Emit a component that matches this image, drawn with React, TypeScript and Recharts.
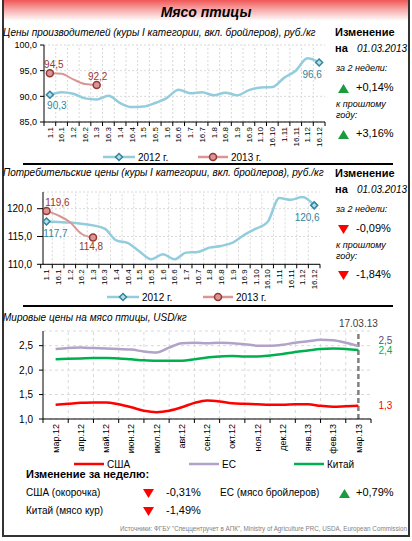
import React from 'react';
import { LineChart, Line, XAxis, YAxis, CartesianGrid, Legend, ReferenceLine } from 'recharts';

const FONT = '"Liberation Sans", Arial, Helvetica, sans-serif';

// Цены производителей / потребительские цены, руб./кг (по полумесяцам)
const periods = ['1.1', '16.1', '1.2', '16.2', '1.3', '16.3', '1.4', '16.4', '1.5', '16.5', '1.6', '16.6', '1.7', '16.7', '1.8', '16.8', '1.9', '16.9', '1.10', '16.10', '1.11', '16.11', '1.12', '16.12'];
const producer2012 = [90.3, 90.8, 90.5, 89.6, 89.4, 90.1, 88.7, 87.9, 88.0, 88.7, 89.7, 91.3, 90.6, 90.8, 90.2, 90.7, 90.2, 91.2, 91.7, 91.8, 93.6, 95.0, 97.4, 96.6];
const producer2013 = [94.5, 94.4, 93.3, 92.4, 92.2];
const consumer2012 = [117.7, 117.6, 117.5, 117.3, 117.0, 116.4, 114.3, 113.8, 112.3, 110.9, 111.8, 110.9, 112.1, 112.2, 113.0, 113.3, 113.9, 115.3, 116.4, 117.6, 121.9, 121.6, 122.1, 120.6];
const consumer2013 = [119.6, 118.8, 117.6, 115.5, 114.8];

// Мировые цены, USD/кг
const worldMonths = ['мар.12', 'апр.12', 'май.12', 'июн.12', 'июл.12', 'авг.12', 'сен.12', 'окт.12', 'ноя.12', 'дек.12', 'янв.13', 'фев.13', 'мар.13'];
const worldSteps = [0, 0.5, 1, 1.5, 2, 2.5, 3, 3.5, 4, 4.5, 5, 5.5, 6, 6.5, 7, 7.5, 8, 8.5, 9, 9.5, 10, 10.5, 11, 11.5, 12];
const usaPrices = [1.29, 1.31, 1.33, 1.34, 1.34, 1.30, 1.24, 1.17, 1.14, 1.17, 1.24, 1.33, 1.38, 1.36, 1.32, 1.31, 1.30, 1.29, 1.29, 1.30, 1.30, 1.27, 1.25, 1.26, 1.27];
const euPrices = [2.43, 2.45, 2.46, 2.45, 2.44, 2.43, 2.42, 2.38, 2.36, 2.46, 2.55, 2.56, 2.55, 2.56, 2.55, 2.53, 2.50, 2.50, 2.52, 2.56, 2.59, 2.62, 2.61, 2.56, 2.49];
const chinaPrices = [2.22, 2.23, 2.24, 2.25, 2.25, 2.24, 2.22, 2.20, 2.19, 2.19, 2.19, 2.22, 2.26, 2.28, 2.29, 2.28, 2.28, 2.30, 2.33, 2.37, 2.40, 2.43, 2.44, 2.43, 2.41];

const producerRows = periods.map((p, i) => ({ i, p, y2012: producer2012[i], y2013: producer2013[i] }));
const consumerRows = periods.map((p, i) => ({ i, p, y2012: consumer2012[i], y2013: consumer2013[i] }));
const worldRows = worldSteps.map((s, k) => ({ s, usa: usaPrices[k], eu: euPrices[k], china: chinaPrices[k] }));

const C12 = '#93cddd';
const C12_DARK = '#31859c';
const C13 = '#d99694';
const C13_DARK = '#953735';

const fmt = (v: number) => v.toFixed(1).replace('.', ',');

// ticks every half step: integers carry labels, halves carry tick marks
const halfTicks = (n: number) => Array.from({ length: 2 * n + 1 }, (_, k) => k / 2 - 0.5);
const inner = (n: number) => halfTicks(n).filter(v => !Number.isInteger(v) && v > 0 && v < n - 1);

function SplitTick({ x, y, payload, labels, fontSize }: any) {
  const v = payload.value;
  if (!Number.isInteger(v)) return <line x1={x} x2={x} y1={y - 4} y2={y} stroke="#000" />;
  return (
    <text x={x} y={y + 1} transform={`rotate(-90, ${x}, ${y + 1})`} textAnchor="end" dy="0.35em"
      fontSize={fontSize} fill="#000" fontFamily={FONT}>{labels[v]}</text>
  );
}

function Marker({ shape, cx, cy }: any) {
  if (shape === 'diamond') {
    return <path d={`M${cx},${cy - 3.5}L${cx + 3.5},${cy}L${cx},${cy + 3.5}L${cx - 3.5},${cy}Z`} fill="#b7dee8" stroke={C12_DARK} strokeWidth={1.5} />;
  }
  return <circle cx={cx} cy={cy} r={3.5} fill={C13} stroke={C13_DARK} strokeWidth={1.5} />;
}

const endDots = (shape: string, last: number) => (p: any) => {
  if ((p.index !== 0 && p.index !== last) || p.cy == null) return <g key={`d-${p.index}`} />;
  return <g key={`d-${p.index}`}><Marker shape={shape} cx={p.cx} cy={p.cy} /></g>;
};

const pointLabels = (spec: Record<number, { dx: number; dy: number }>, color: string, anchor = 'middle') => (p: any) => {
  const s = spec[p.index];
  if (!s || p.value == null) return null;
  const x = p.viewBox?.x ?? p.x;
  const y = p.viewBox?.y ?? p.y;
  return (
    <text x={x + s.dx} y={y + s.dy} textAnchor={anchor} dominantBaseline="central" fontSize={10} fill={color} fontFamily={FONT}>
      {fmt(p.value)}
    </text>
  );
};

function PlacedLegend({ payload, slots }: any) {
  return (
    <div style={{ position: 'relative', height: 14, fontFamily: FONT, fontSize: 10 }}>
      {(payload || []).map((entry: any) => {
        const s = slots[entry.value];
        if (!s) return null;
        return (
          <div key={entry.value} style={{ position: 'absolute', left: s.x, top: 0, height: 14, display: 'flex', alignItems: 'center' }}>
            <svg width={s.w} height={10} style={{ overflow: 'visible' }}>
              <line x1={0} x2={s.w} y1={5} y2={5} stroke={entry.color} strokeWidth={2.5} />
              {s.marker && <Marker shape={s.marker} cx={s.w / 2} cy={5} />}
            </svg>
            <span style={{ marginLeft: 3, color: '#000' }}>{entry.value}</span>
          </div>
        );
      })}
    </div>
  );
}

function PriceChart({ rows, top, height, yDomain, yTicks, xDomain, xHeight, right, yWidth, yTickSize, yTickMargin, yFont, legendTop, slots, labels12, labels13 }: any) {
  return (
    <div style={{ position: 'absolute', left: 0, top }}>
      <LineChart width={330} height={height} data={rows} margin={{ top: 6, right, bottom: 0, left: 0 }}>
        <CartesianGrid vertical={false} stroke="#d9d9d9" strokeDasharray="2 2" />
        {inner(24).map(v => <ReferenceLine key={v} x={v} stroke="#d9d9d9" strokeDasharray="2 2" />)}
        <XAxis dataKey="i" type="number" domain={xDomain} ticks={halfTicks(24)} interval={0} height={xHeight}
          tickSize={4} tickMargin={0} tickLine={false} axisLine={{ stroke: '#000' }}
          tick={<SplitTick labels={periods} fontSize={8} />} />
        <YAxis width={yWidth} domain={yDomain} ticks={yTicks} tickFormatter={fmt} interval={0}
          tick={{ fontSize: yFont, fill: '#000', fontFamily: FONT }} tickSize={yTickSize} tickMargin={yTickMargin}
          axisLine={{ stroke: '#000' }} tickLine={{ stroke: '#000' }} />
        <Legend verticalAlign="middle" align="center" wrapperStyle={{ top: legendTop, left: 0, width: 330 }}
          content={(props: any) => <PlacedLegend {...props} slots={slots} />} />
        <Line dataKey="y2012" name="2012 г." type="monotone" stroke={C12} strokeWidth={2.5}
          dot={endDots('diamond', 23)} activeDot={false} isAnimationActive={false}
          label={pointLabels(labels12, C12_DARK)} />
        <Line dataKey="y2013" name="2013 г." type="monotone" stroke={C13} strokeWidth={2}
          dot={endDots('circle', 4)} activeDot={false} isAnimationActive={false}
          label={pointLabels(labels13, C13_DARK)} />
      </LineChart>
    </div>
  );
}

function WorldChart() {
  const last = worldSteps.length - 1;
  return (
    <div style={{ position: 'absolute', left: 0, top: 310 }}>
      <LineChart width={412} height={166} data={worldRows} margin={{ top: 21, right: 41, bottom: 0, left: 0 }}>
        <CartesianGrid vertical={false} stroke="#d9d9d9" strokeDasharray="3 3" />
        {inner(13).map(v => <ReferenceLine key={v} x={v} stroke="#d9d9d9" strokeDasharray="3 3" />)}
        <ReferenceLine x={12} stroke="#808080" strokeWidth={2.5} strokeDasharray="5 3"
          label={{ value: '17.03.13', position: 'top', fill: '#404040', fontSize: 10, fontFamily: FONT, offset: 4 }} />
        <XAxis dataKey="s" type="number" domain={[-0.5, 12.5]} ticks={halfTicks(13)} interval={0} height={57}
          tickSize={4} tickMargin={0} tickLine={false} axisLine={{ stroke: '#000' }}
          tick={<SplitTick labels={worldMonths} fontSize={9} />} />
        <YAxis width={43} domain={[1, 2.8]} ticks={[1, 1.5, 2, 2.5]} tickFormatter={fmt} interval={0}
          tick={{ fontSize: 10, fill: '#000', fontFamily: FONT }} tickSize={4} tickMargin={6}
          axisLine={{ stroke: '#000' }} tickLine={{ stroke: '#000' }} />
        <Legend verticalAlign="middle" align="center" wrapperStyle={{ top: 147, left: 0, width: 412 }}
          content={(props: any) => <PlacedLegend {...props} slots={{ 'США': { x: 74, w: 30 }, 'ЕС': { x: 189, w: 30 }, 'Китай': { x: 294, w: 30 } }} />} />
        <Line dataKey="usa" name="США" type="monotone" stroke="#ff0000" strokeWidth={2.5} dot={false} activeDot={false}
          isAnimationActive={false} label={pointLabels({ [last]: { dx: 20, dy: 0 } }, '#ff0000', 'start')} />
        <Line dataKey="eu" name="ЕС" type="monotone" stroke="#b3a2c7" strokeWidth={2.5} dot={false} activeDot={false}
          isAnimationActive={false} label={pointLabels({ [last]: { dx: 20, dy: -6 } }, '#604a7b', 'start')} />
        <Line dataKey="china" name="Китай" type="monotone" stroke="#00b050" strokeWidth={2.5} dot={false} activeDot={false}
          isAnimationActive={false} label={pointLabels({ [last]: { dx: 20, dy: 0 } }, '#00b050', 'start')} />
      </LineChart>
    </div>
  );
}

function Txt({ x, y, size = 10, bold, italic, color = '#000', children, right }: any) {
  return (
    <div style={{
      position: 'absolute', left: right ? undefined : x, right: right ? 412 - x : undefined, top: y - size * 0.62,
      fontSize: size, lineHeight: 1.2, fontWeight: bold ? 'bold' : 'normal', fontStyle: italic ? 'italic' : 'normal',
      color, whiteSpace: 'nowrap', fontFamily: FONT,
    }}>{children}</div>
  );
}

function Arrow({ up, x, y }: any) {
  return (
    <svg style={{ position: 'absolute', left: x, top: y - 4.5 }} width={11} height={9}>
      <polygon points={up ? '5.5,0 11,9 0,9' : '0,0 11,0 5.5,9'} fill={up ? '#1a9c3e' : '#ff0000'} />
    </svg>
  );
}

function ChangeColumn({ top, twoWeeks, yearAgo, up1, up2 }: any) {
  return (
    <>
      <Txt x={335} y={top} size={11} bold>Изменение</Txt>
      <Txt x={335} y={top + 16} size={11} bold>на</Txt>
      <Txt x={357} y={top + 16} size={10} italic>01.03.2013</Txt>
      <Txt x={336} y={top + 36} size={9} italic>за 2 недели:</Txt>
      <Arrow up={up1} x={338} y={top + 55} />
      <Txt x={356} y={top + 55} size={11}>{twoWeeks}</Txt>
      <Txt x={336} y={top + 72} size={9} italic>к прошлому</Txt>
      <Txt x={336} y={top + 83} size={9} italic>году:</Txt>
      <Arrow up={up2} x={338} y={top + 101} />
      <Txt x={356} y={top + 101} size={11}>{yearAgo}</Txt>
    </>
  );
}

export default function App() {
  return (
    <div style={{ position: 'relative', width: 412, height: 541, background: '#fff', overflow: 'hidden', fontFamily: FONT }}>
      <style>{'body{margin:0}'}</style>
      <div style={{ position: 'absolute', left: 4, top: 0, width: 404, height: 21, background: 'linear-gradient(#f05656, #f7a8a8 45%, #ffffff)' }} />
      <div style={{ position: 'absolute', left: 2, top: 0, width: 408, height: 537, boxSizing: 'border-box', borderLeft: '2px solid #333', borderRight: '2px solid #333', borderBottom: '2px solid #333' }} />
      <Txt x={206} y={12.5} size={14} bold italic><span style={{ display: 'block', transform: 'translateX(-50%)' }}>Мясо птицы</span></Txt>

      <Txt x={3} y={33} size={10} italic>Цены производителей (куры I категории, вкл. бройлеров), руб./кг</Txt>
      <PriceChart rows={producerRows} top={39} height={126} yDomain={[85, 100]} yTicks={[85, 90, 95, 100]}
        xDomain={[-0.5, 23.5]} xHeight={43} right={5} yWidth={44} yTickSize={4} yTickMargin={3} yFont={9} legendTop={111}
        slots={{ '2012 г.': { x: 103, w: 32, marker: 'diamond' }, '2013 г.': { x: 198, w: 30, marker: 'circle' } }}
        labels12={{ 0: { dx: 7, dy: 11 }, 23: { dx: -7, dy: 12 } }}
        labels13={{ 0: { dx: 4, dy: -9 }, 4: { dx: 1, dy: -9 } }} />
      <ChangeColumn top={33} twoWeeks="+0,14%" yearAgo="+3,16%" up1 up2 />

      <div style={{ position: 'absolute', left: 23, top: 163, width: 370, height: 1.5, background: '#000' }} />

      <Txt x={3} y={173} size={10} italic>Потребительские цены (куры I категории, вкл. бройлеров), руб./кг</Txt>
      <PriceChart rows={consumerRows} top={186} height={120} yDomain={[110, 123]} yTicks={[110, 115, 120]}
        xDomain={[-0.3, 23.5]} xHeight={41.7} right={10} yWidth={43} yTickSize={6} yTickMargin={5} yFont={10} legendTop={104}
        slots={{ '2012 г.': { x: 107, w: 32, marker: 'diamond' }, '2013 г.': { x: 203, w: 30, marker: 'circle' } }}
        labels12={{ 0: { dx: 9, dy: 12 }, 23: { dx: -7, dy: 12 } }}
        labels13={{ 0: { dx: 11, dy: -8 }, 4: { dx: -2, dy: 9 } }} />
      <ChangeColumn top={174} twoWeeks="-0,09%" yearAgo="-1,84%" up1={false} up2={false} />

      <div style={{ position: 'absolute', left: 23, top: 305, width: 370, height: 1.5, background: '#000' }} />

      <Txt x={3} y={318} size={10} italic>Мировые цены на мясо птицы, USD/кг</Txt>
      <WorldChart />

      <Txt x={26} y={475} size={11} bold>Изменение за неделю:</Txt>
      <Txt x={26} y={493} size={10}>США (окорочка)</Txt>
      <Arrow up={false} x={143} y={493} />
      <Txt x={166} y={493} size={11}>-0,31%</Txt>
      <Txt x={220} y={493} size={10}>ЕС (мясо бройлеров)</Txt>
      <Arrow up x={339} y={493} />
      <Txt x={356} y={493} size={11}>+0,79%</Txt>
      <Txt x={26} y={511} size={10}>Китай (мясо кур)</Txt>
      <Arrow up={false} x={143} y={511} />
      <Txt x={166} y={511} size={11}>-1,49%</Txt>
      <Txt x={407} y={529} size={6.3} color="#7f7f7f" right>Источники: ФГБУ "Спеццентручет в АПК", Ministry of Agriculture PRC, USDA, European Commission</Txt>
    </div>
  );
}
